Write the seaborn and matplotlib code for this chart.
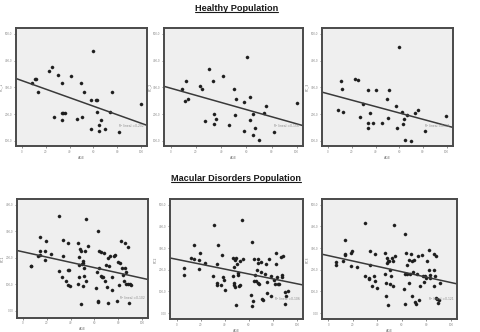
import numpy as np
import pandas as pd
import matplotlib
matplotlib.use("Agg")
import matplotlib.pyplot as plt
from matplotlib.lines import Line2D
from matplotlib.ticker import FuncFormatter
import seaborn as sns

# ---- Healthy population -------------------------------------------------
healthy_age_1 = [8.5, 10.7, 11.8, 13.0, 22.8, 25.0, 27.0, 29.9, 33.5, 33.5, 34.0, 34.6,
                 36.0, 40.8, 45.9, 49.6, 50.7, 51.8, 57.7, 57.7, 59.7, 62.5, 63.0, 63.0,
                 64.8, 64.8, 66.8, 70.0, 74.0, 76.0, 82.0, 100.0]
healthy_fc_1 = [317, 332, 332, 281, 360, 376, 189, 347, 316, 202, 176, 202,
                202, 343, 183, 316, 190, 281, 254, 145, 437, 254, 254, 208,
                159, 136, 176, 145, 208, 281, 133, 239]

healthy_age_2 = [9.0, 11.2, 12.3, 13.4, 23.2, 25.2, 26.9, 30.3, 33.9, 34.5, 34.5, 36.1,
                 41.2, 45.9, 50.4, 50.7, 52.1, 58.0, 58.3, 60.2, 63.0, 63.3, 65.0, 65.3,
                 67.0, 70.3, 73.9, 75.9, 82.0, 100.0]
healthy_fc_2 = [293, 247, 322, 257, 304, 293, 173, 368, 322, 200, 164, 183,
                341, 158, 293, 198, 257, 244, 136, 415, 262, 179, 200, 120,
                146, 104, 203, 230, 131, 242]

healthy_age_3 = [8.5, 10.5, 11.6, 12.5, 22.4, 24.9, 26.6, 29.7, 33.7, 33.7, 33.7, 35.7,
                 37.7, 40.5, 45.6, 49.6, 50.4, 51.6, 57.5, 57.8, 59.5, 62.3, 62.9, 64.3,
                 64.6, 66.9, 69.7, 73.1, 75.6, 81.9, 99.7]
healthy_fc_3 = [214, 324, 293, 209, 331, 327, 189, 239, 289, 168, 146, 202,
                166, 289, 166, 255, 184, 289, 229, 146, 450, 209, 164, 183,
                104, 197, 99, 204, 215, 136, 193]

# ---- Macular disorders population ----------------------------------------
macular_age_1 = [6.5, 6.5, 12.4, 14.3, 14.3, 14.3, 18.3, 18.5, 19.4, 23.3, 30.0, 30.0,
                 33.7, 33.1, 34.0, 36.0, 37.6, 38.2, 38.2, 39.0, 39.9, 46.6, 46.6, 46.9,
                 47.2, 47.5, 48.3, 48.9, 48.9, 50.0, 50.5, 50.8, 50.8, 51.1, 51.1, 52.5,
                 53.1, 53.4, 54.8, 61.5, 62.0, 62.9, 62.9, 62.9, 63.8, 64.0, 65.4, 65.7,
                 66.3, 67.1, 68.0, 68.8, 69.7, 70.5, 71.3, 71.9, 72.8, 73.6, 74.7, 75.3,
                 76.4, 77.5, 78.9, 80.3, 80.6, 81.5, 82.9, 83.1, 84.0, 84.8, 85.7, 86.2,
                 86.8, 87.0, 88.2, 88.8, 89.3, 90.4, 91.3]
macular_fc_1 = [170, 167, 205, 277, 224, 211, 224, 192, 262, 214, 355, 148,
                265, 127, 207, 113, 98, 255, 153, 153, 93, 255, 102, 174,
                202, 126, 234, 226, 25, 177, 189, 181, 93, 161, 130, 224,
                345, 111, 244, 86, 145, 299, 38, 33, 161, 226, 130, 221,
                127, 126, 219, 111, 174, 89, 200, 29, 167, 205, 127, 80,
                207, 209, 38, 182, 98, 179, 263, 161, 135, 112, 162, 254,
                102, 145, 102, 240, 29, 101, 96]

macular_age_2 = [6.4, 6.4, 12.2, 14.1, 14.7, 18.3, 18.3, 19.4, 23.5, 30.7, 30.5, 33.8,
                 34.6, 33.8, 33.8, 36.6, 38.0, 38.8, 39.1, 40.4, 46.5, 47.1, 47.4, 47.4,
                 47.7, 48.2, 48.8, 49.3, 49.3, 50.1, 51.0, 51.2, 51.8, 52.4, 52.9, 54.0,
                 55.1, 61.8, 62.9, 63.2, 62.9, 64.0, 64.5, 65.4, 65.9, 67.0, 67.6, 67.3,
                 67.9, 68.7, 70.1, 70.4, 71.2, 71.7, 73.1, 74.5, 74.8, 75.3, 77.0, 78.4,
                 78.7, 80.6, 81.4, 82.3, 82.5, 83.7, 84.5, 85.3, 86.7, 87.3, 87.8, 88.6,
                 90.0, 90.9, 89.8, 92.2]
macular_fc_2 = [207, 176, 256, 312, 249, 244, 205, 275, 232, 405, 170, 227,
                312, 139, 130, 130, 269, 168, 154, 107, 170, 255, 212, 141,
                130, 119, 244, 253, 37, 224, 187, 176, 127, 131, 241, 428,
                250, 83, 330, 54, 32, 249, 148, 176, 148, 198, 232, 137,
                249, 134, 236, 191, 65, 60, 182, 227, 91, 142, 249, 171,
                79, 153, 133, 225, 275, 165, 134, 134, 259, 176, 167, 263,
                99, 77, 40, 103]

macular_age_3 = [6.5, 6.5, 12.1, 14.0, 14.0, 14.0, 18.3, 18.3, 19.4, 23.2, 30.2, 30.2,
                 32.9, 33.4, 33.9, 34.2, 35.6, 37.7, 38.0, 38.0, 39.9, 46.6, 46.6, 46.9,
                 47.4, 48.5, 48.0, 48.2, 48.8, 49.6, 50.1, 50.7, 51.2, 51.8, 52.6, 52.6,
                 53.9, 54.7, 62.3, 61.5, 62.8, 63.3, 64.2, 64.4, 62.5, 65.5, 66.0, 66.6,
                 67.4, 68.2, 68.5, 69.3, 70.1, 70.6, 71.4, 72.0, 73.6, 74.4, 74.9, 76.5,
                 77.6, 78.4, 79.2, 80.1, 80.6, 81.9, 81.9, 82.7, 83.0, 86.3, 86.0, 86.3,
                 87.1, 87.6, 88.1, 88.9, 89.5, 90.0, 91.4]
macular_fc_3 = [236, 221, 238, 339, 273, 268, 218, 278, 288, 212, 417, 173,
                158, 163, 222, 285, 127, 170, 273, 150, 117, 278, 178, 141,
                81, 37, 230, 256, 238, 242, 132, 198, 173, 252, 242, 123,
                408, 261, 365, 113, 181, 276, 221, 178, 43, 141, 245, 178,
                271, 242, 78, 190, 247, 49, 43, 178, 262, 61, 127, 267,
                170, 144, 169, 161, 241, 290, 199, 160, 175, 199, 127, 273,
                170, 69, 265, 64, 45, 61, 140]

titles = ["Healthy Population", "Macular Disorders Population"]
x_label = "AGE"
healthy_ylabels = ["FC_1", "FC_2", "FC_3"]
macular_ylabels = ["FC1", "FC2", "FC3"]
x_ticks = [0, 20, 40, 60, 80, 100]
healthy_yticks = [100, 200, 300, 400, 500]
macular_yticks_1 = [0, 100, 200, 300, 400]
macular_yticks_23 = [0, 100, 200, 300, 400, 500]

sns.set_style("white")
plt.rcParams["font.family"] = ["DejaVu Sans"]

fig = plt.figure(figsize=(4.81, 3.32), dpi=100)
fig.patch.set_facecolor("white")

# panel rectangles [left, bottom, width, height] in figure fractions
top_rects = [[0.033, 0.560, 0.272, 0.355],
             [0.341, 0.560, 0.289, 0.355],
             [0.669, 0.560, 0.272, 0.355]]
bot_rects = [[0.035, 0.043, 0.272, 0.357],
             [0.354, 0.038, 0.276, 0.362],
             [0.669, 0.038, 0.281, 0.362]]


def fmt_value(v, p):
    s = f"{v:.1f}" if abs(v) >= 100 else f"{v:.2f}"
    return s.replace(".", ",")


comma_fmt = FuncFormatter(fmt_value)


def panel(rect, ages, vals, ylabel, yticks, ylim):
    ax = fig.add_axes(rect)
    ax.set_facecolor("#efefef")
    ax.set_xlim(-5.3, 105)
    ax.set_ylim(*ylim)
    df = pd.DataFrame({"age": ages, "val": vals})
    sns.regplot(data=df, x="age", y="val", ax=ax, ci=None, truncate=False,
                scatter_kws=dict(s=5, color="#1e1e1e", edgecolor="#1e1e1e",
                                 linewidths=0.3, alpha=1),
                line_kws=dict(color="#3a3a3a", lw=1.1))
    ax.set_xlim(-5.3, 105)
    ax.set_ylim(*ylim)
    ax.set_xticks(x_ticks)
    ax.set_yticks(yticks)
    ax.yaxis.set_major_formatter(comma_fmt)
    ax.tick_params(axis="both", which="major", labelsize=2.0, labelcolor="#8a8a8a",
                   length=1.6, width=0.5, color="#666666", pad=1.0,
                   bottom=True, left=True)
    ax.set_xlabel(x_label, fontsize=2.4, color="#7a7a7a", labelpad=1.5)
    ax.set_ylabel(ylabel, fontsize=2.4, color="#7a7a7a", labelpad=1.0)
    for s in ax.spines.values():
        s.set_visible(True)
        s.set_color("#4a4a4a")
        s.set_linewidth(1.4)
    r = np.corrcoef(ages, vals)[0, 1]
    r2 = f"{r * r:.3f}".replace(".", ",")
    ax.text(0.79, 0.17, f"R² lineal ={r2}", transform=ax.transAxes,
            fontsize=2.2, color="#8a8a8a", va="center", ha="left")
    return ax


healthy = [(healthy_age_1, healthy_fc_1), (healthy_age_2, healthy_fc_2),
           (healthy_age_3, healthy_fc_3)]
macular = [(macular_age_1, macular_fc_1), (macular_age_2, macular_fc_2),
           (macular_age_3, macular_fc_3)]

for rect, (a, v), yl in zip(top_rects, healthy, healthy_ylabels):
    panel(rect, a, v, yl, healthy_yticks, (80, 521))

panel(bot_rects[0], macular[0][0], macular[0][1], macular_ylabels[0],
      macular_yticks_1, (-26, 420))
for rect, (a, v), yl in zip(bot_rects[1:], macular[1:], macular_ylabels[1:]):
    panel(rect, a, v, yl, macular_yticks_23, (-29, 525))

# underlined section headings
heads = []
for title, ypix in zip(titles, [8.5, 178.5]):
    t = fig.text(0.491, 1 - ypix / 332, title, ha="center", va="center",
                 fontsize=6.6, fontweight="bold", color="#1a1a1a",
                 family=["Liberation Sans", "DejaVu Sans"])
    heads.append(t)

fig.canvas.draw()
inv = fig.transFigure.inverted()
for t in heads:
    bb = t.get_window_extent()
    (x0, y0), (x1, y1) = inv.transform([(bb.x0, bb.y0), (bb.x1, bb.y1)])
    fig.add_artist(Line2D([x0, x1], [y0 + 0.003, y0 + 0.003], transform=fig.transFigure,
                          color="#1a1a1a", lw=0.8))

fig.savefig("out.png", dpi=100, facecolor="white")
